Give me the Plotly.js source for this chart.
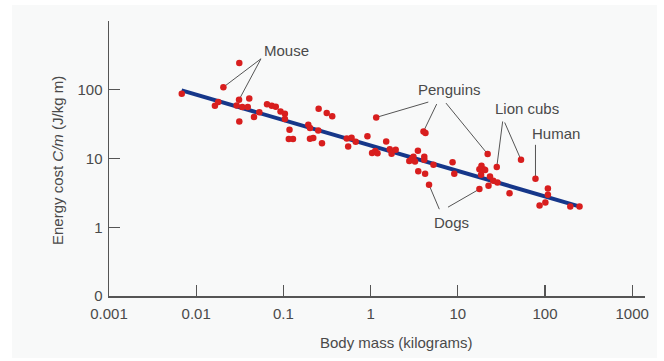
<!DOCTYPE html>
<html>
<head>
<meta charset="utf-8">
<script src="https://cdn.plot.ly/plotly-3.0.1.min.js"></script>
<style>html,body{margin:0;padding:0;background:#fff;}#chart{width:664px;height:361px;}</style>
</head>
<body>
<div id="chart"></div>
<script>
// Scatter data: body mass (kg) and energy cost C/m (J/kg m)
const massKg = [0.00683,0.0312,0.0205,0.031,0.0406,0.0164,0.0179,0.0291,0.0338,0.039,
  0.0312,0.046,0.053,0.0649,0.0735,0.0818,0.0927,0.104,0.104,0.1175,
  0.1153,0.1288,0.193,0.2018,0.251,0.2018,0.220,0.277,0.2536,0.314,
  0.363,0.533,0.605,0.553,0.675,0.92,1.16,1.04,1.13,1.2,
  1.51,1.66,1.74,1.94,2.78,2.97,3.1,3.23,3.49,4.04,
  4.26,4.13,4.13,3.52,4.22,5.26,4.68,8.71,9.12,22.0,
  18.7,17.7,20.0,18.5,23.4,25.5,28.5,22.5,17.7,28.0,
  53.1,77.8,39.2,108,108,101,86.7,195,249,20.6];
const energyCost = [87.4,245,109,71.5,74.7,58.5,66.2,59.1,56.0,56.0,
  34.6,40.1,47.0,61.5,58.5,56.6,48.2,44.7,37.5,26.2,
  19.2,19.2,31.0,27.7,25.5,19.4,19.9,16.7,52.9,45.9,
  41.3,19.5,20.1,15.0,17.5,21.0,39.6,12.0,12.9,11.9,
  17.7,13.6,11.7,13.4,9.16,9.8,10.6,9.04,13.0,24.7,
  23.4,10.6,9.57,6.55,5.99,8.09,4.14,8.83,5.99,11.6,
  7.83,6.96,6.89,5.79,5.47,4.73,4.48,4.01,3.59,7.5,
  9.57,5.07,3.13,3.66,2.96,2.29,2.07,2.0,2.0,6.8];

// Fitted regression line (end points)
const fitMass = [0.0068, 235];
const fitCost = [98, 2.05];

// Tick labels
const xTickVals = [0.001, 0.01, 0.1, 1, 10, 100, 1000];
const xTickText = ["0.001", "0.01", "0.1", "1", "10", "100", "1000"];
const yTickVals = [0.1, 1, 10, 100];
const yTickText = ["0", "1", "10", "100"];

// Callout labels (text, mass, cost at label centre)
const calloutText = ["Mouse", "Penguins", "Lion cubs", "Human", "Dogs"];
const calloutMass = [0.1087, 7.93, 62.2, 133.7, 8.47];
const calloutCost = [374, 101, 53.8, 22.9, 1.16];

// Leader lines: tail (near label) -> index of the data point it marks
const leaderTailMass = [0.0553, 0.0553, 4.59, 5.73, 7.32, 32.7, 34.5, 77.8, 6.14, 7.72];
const leaderTailCost = [282, 282, 66.2, 61.9, 64.0, 34.6, 33.4, 15.8, 1.83, 1.96];
const leaderPoint = [2, 3, 36, 49, 59, 69, 70, 71, 56, 68];

const FONT = '"Liberation Sans", Arial, sans-serif';
const FS = 15;
const TXT = '#4a4a4a';

const lx = [], ly = [];
leaderPoint.forEach((p, i) => {
  lx.push(leaderTailMass[i], massKg[p], null);
  ly.push(leaderTailCost[i], energyCost[p], null);
});

const traces = [
  {x: lx, y: ly, mode: 'lines', type: 'scatter', line: {color: '#555', width: 1}, hoverinfo: 'skip'},
  {x: fitMass, y: fitCost, mode: 'lines', type: 'scatter', line: {color: '#16378a', width: 4}},
  {x: massKg, y: energyCost, mode: 'markers', type: 'scatter', marker: {color: '#d81e1e', size: 6.5}}
];

const annotations = calloutText.map((t, i) => ({
  text: t, xref: 'x', yref: 'y', x: Math.log10(calloutMass[i]), y: Math.log10(calloutCost[i]),
  xanchor: 'center', yanchor: 'middle',
  showarrow: false, font: {family: FONT, size: FS, color: TXT}
}));
annotations.push({
  text: 'Energy cost <i>C/m</i> (J/kg m)', xref: 'paper', yref: 'paper',
  x: (58 - 109) / 536, y: (296 - 161) / 275, textangle: -90, showarrow: false,
  xanchor: 'center', yanchor: 'middle',
  font: {family: FONT, size: FS, color: TXT}
});
annotations.push({
  text: 'Body mass (kilograms)', xref: 'paper', yref: 'paper',
  x: (396 - 109) / 536, y: (296 - 342) / 275, showarrow: false,
  xanchor: 'center', yanchor: 'middle',
  font: {family: FONT, size: FS, color: TXT}
});

const layout = {
  width: 664, height: 361,
  margin: {l: 109, r: 19, t: 21, b: 65},
  paper_bgcolor: '#ffffff', plot_bgcolor: 'rgba(0,0,0,0)',
  showlegend: false,
  font: {family: FONT, size: FS, color: TXT},
  shapes: [{type: 'rect', xref: 'paper', yref: 'paper', layer: 'below',
    x0: (12 - 109) / 536, x1: (657 - 109) / 536, y0: (296 - 358) / 275, y1: (296 - 5) / 275,
    fillcolor: '#f8f9f9', line: {width: 0}}],
  xaxis: {
    type: 'log', range: [-3, 3.147], showgrid: false, zeroline: false,
    showline: true, linecolor: '#555', linewidth: 1.5,
    ticks: 'inside', ticklen: 11, tickcolor: '#555', tickwidth: 1.2,
    tickvals: xTickVals, ticktext: xTickText, ticklabelstandoff: 3,
    tickfont: {family: FONT, size: FS, color: TXT}
  },
  yaxis: {
    type: 'log', range: [-1, 3], showgrid: false, zeroline: false,
    showline: true, linecolor: '#555', linewidth: 1.5,
    ticks: 'inside', ticklen: 11, tickcolor: '#555', tickwidth: 1.2,
    tickvals: yTickVals, ticktext: yTickText, ticklabelstandoff: 2,
    tickfont: {family: FONT, size: FS, color: TXT}
  },
  annotations: annotations
};

Plotly.newPlot('chart', traces, layout, {displayModeBar: false, staticPlot: true});
</script>
</body>
</html>
